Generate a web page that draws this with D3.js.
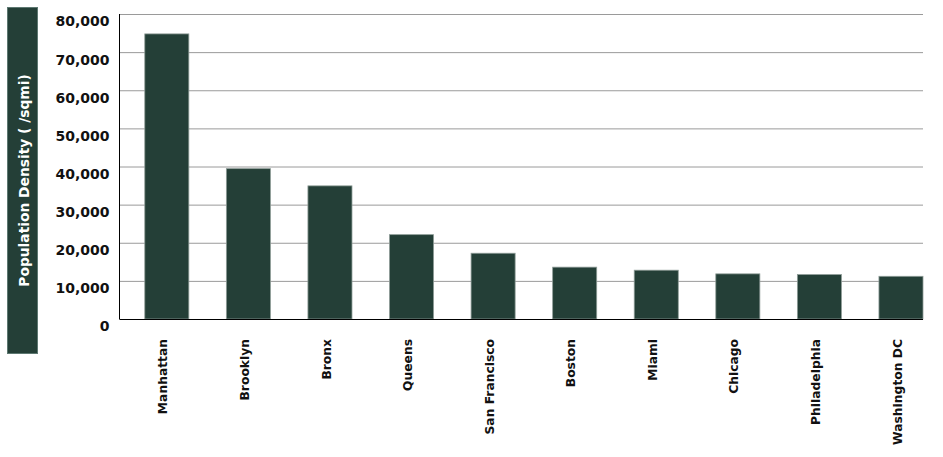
<!DOCTYPE html>
<html lang="en">
<head>
    <meta charset="UTF-8">
    <title>Population Density</title>
    <script src="https://cdn.jsdelivr.net/npm/d3@7"></script>
    <style>
        body { margin: 0; background: #fff; }
        text { font-family: "DejaVu Sans", sans-serif; }
    </style>
</head>
<body>
    <svg class="root"></svg>
<script>
    // data
    const cities = ["Manhattan", "Brooklyn", "Bronx", "Queens", "San Francisco",
                    "Boston", "Miami", "Chicago", "Philadelphia", "Washington DC"];
    const density = [74781, 39438, 34920, 22125, 17250, 13600, 12800, 11840, 11650, 11200];
    const yTicks = [0, 10000, 20000, 30000, 40000, 50000, 60000, 70000, 80000];
    const yTitle = "Population Density ( /sqmi)";

    const width = 943, height = 457;
    const margin = {top: 14, right: 20, bottom: 138, left: 119.5};
    const barColor = "#243f37";

    const svg = d3.select(".root")
        .attr("width", width)
        .attr("height", height);

    const x = d3.scaleBand()
        .domain(cities)
        .range([margin.left, width - margin.right])
        .paddingInner(0.46)
        .paddingOuter(0.155)
        .align(1);

    const y = d3.scaleLinear()
        .domain([0, 80000])
        .range([height - margin.bottom, margin.top]);

    // gridlines
    svg.append("g")
        .attr("transform", `translate(${margin.left},0)`)
        .call(d3.axisLeft(y).tickValues(yTicks).tickSize(-(width - margin.right - margin.left)).tickFormat(""))
        .call(g => g.select(".domain").remove())
        .call(g => g.selectAll("line").attr("stroke", "#9a9a9a"));

    // tick labels
    svg.append("g")
        .attr("transform", `translate(${margin.left},0)`)
        .call(d3.axisLeft(y).tickValues(yTicks).tickSize(0).tickPadding(10).tickFormat(d3.format(",")))
        .call(g => g.select(".domain").remove())
        .call(g => g.selectAll("text")
            .attr("dy", "0.85em")
            .attr("fill", "#111")
            .style("font-size", "14px")
            .style("font-weight", "bold"));

    // bars
    svg.append("g")
        .selectAll("rect")
        .data(cities)
        .join("rect")
        .attr("x", d => x(d))
        .attr("width", x.bandwidth())
        .attr("y", (d, i) => y(density[i]))
        .attr("height", (d, i) => y(0) - y(density[i]))
        .attr("fill", barColor)
        .attr("stroke", "#8e9c97")
        .attr("stroke-width", 0.8);

    // category axis
    svg.append("g")
        .attr("transform", `translate(0,${y(0)})`)
        .call(d3.axisBottom(x).tickSize(0))
        .call(g => g.select(".domain").remove())
        .call(g => g.selectAll("text")
            .attr("transform", "rotate(-90)")
            .attr("text-anchor", "end")
            .attr("x", -20)
            .attr("y", 0)
            .attr("dy", "0.05em")
            .attr("fill", "#111")
            .style("font-size", "12.3px")
            .style("font-weight", "bold"));

    // axis lines
    svg.append("line")
        .attr("x1", margin.left).attr("x2", margin.left)
        .attr("y1", y(80000)).attr("y2", y(0))
        .attr("stroke", "#000");
    svg.append("line")
        .attr("x1", margin.left).attr("x2", width - margin.right)
        .attr("y1", y(0) + 0.5).attr("y2", y(0) + 0.5)
        .attr("stroke", "#000");

    // y title box
    svg.append("rect")
        .attr("x", 7.5).attr("y", 7.5)
        .attr("width", 30).attr("height", 346)
        .attr("fill", barColor)
        .attr("stroke", "#5d7871");

    svg.append("text")
        .attr("transform", `translate(28.5,${7.5 + 346 / 2}) rotate(-90)`)
        .attr("text-anchor", "middle")
        .attr("fill", "#fff")
        .style("font-size", "13.8px")
        .style("font-weight", "bold")
        .text(yTitle);
</script>
</body>
</html>
